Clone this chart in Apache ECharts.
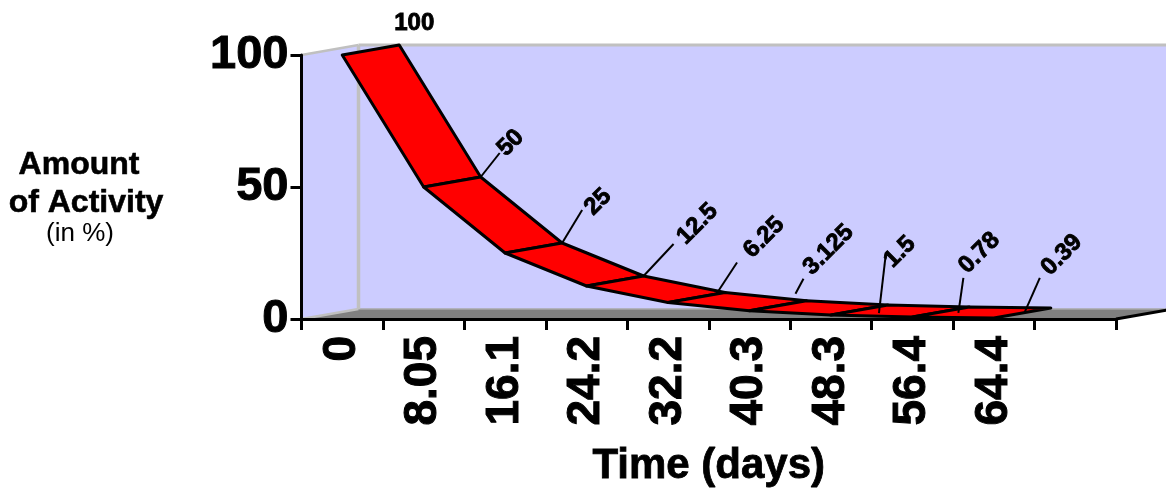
<!DOCTYPE html>
<html>
<head>
<meta charset="utf-8">
<style>html,body{margin:0;padding:0;background:#fff}#c{width:1166px;height:490px}</style>
<script src="https://cdn.jsdelivr.net/npm/echarts@6/dist/echarts.min.js"></script>
</head>
<body>
<div id="c"></div>
<script>
var categories = ['0','8.05','16.1','24.2','32.2','40.3','48.3','56.4','64.4',''];
var activity = [100,50,25,12.5,6.25,3.125,1.5,0.78,0.39];
var valueLabels = ['100','50','25','12.5','6.25','3.125','1.5','0.78','0.39'];
var yTicks = [0,50,100];

// style / layout constants
var FONT = '"Liberation Sans", Arial, sans-serif';
var DEPTH_X = 57, DEPTH_Y = -10;
// label callouts: pixel offsets from each point's front corner
// [leader x0, y0, x1, y1, label x, label y, rotation deg]
var callouts = [
  null,
  [57,-10,76,-34,87,-44,45],
  [57,-10,77,-43,93,-51,45],
  [57,-10,87,-42,111,-62,45],
  [48,-8,69,-40,96,-65,45],
  [46,-17,54,-32,79,-61,45],
  [48,-2,55,-62,69,-63,45],
  [46,-4,51,-39,67,-64,45],
  [31,-6,46,-40,68,-63,45]
];

var chart = echarts.init(document.getElementById('c'), null, {renderer:'canvas'});

function shifted(p){ return [p[0]+DEPTH_X, p[1]+DEPTH_Y]; }

function renderBackdrop(params, api){
  var g = params.coordSys;
  var x0=g.x, x1=g.x+g.width, yT=g.y, yB=g.y+g.height;
  var lt=[x0,yT], lb=[x0,yB], rb=[x1,yB];
  var blt=shifted(lt), blb=shifted(lb), brb=shifted(rb), brt=[brb[0],blt[1]];
  var grey='#c0c0c0';
  return {type:'group', children:[
    {type:'polygon', shape:{points:[blt,brt,brb,blb]}, style:{fill:'#ccccff'}},
    {type:'polygon', shape:{points:[lt,blt,blb,lb]}, style:{fill:'#ccccff'}},
    {type:'polygon', shape:{points:[lb,blb,brb,rb]}, style:{fill:'#808080'}},
    {type:'line', shape:{x1:blb[0],y1:blb[1],x2:brb[0],y2:brb[1]}, style:{stroke:'#a8a8a8',lineWidth:1.5}},
    {type:'line', shape:{x1:blt[0],y1:blt[1],x2:brt[0],y2:brt[1]}, style:{stroke:grey,lineWidth:3}},
    {type:'line', shape:{x1:blt[0],y1:blt[1],x2:blb[0],y2:blb[1]}, style:{stroke:grey,lineWidth:3.5}},
    {type:'line', shape:{x1:lt[0],y1:lt[1],x2:blt[0],y2:blt[1]}, style:{stroke:grey,lineWidth:2.5}},
    {type:'line', shape:{x1:lb[0],y1:lb[1],x2:blb[0],y2:blb[1]}, style:{stroke:grey,lineWidth:2.5}},
    {type:'line', shape:{x1:rb[0],y1:rb[1],x2:brb[0],y2:brb[1]}, style:{stroke:'#000',lineWidth:3}}
  ]};
}

function renderRibbon(params, api){
  var i = api.value(0);
  if (i >= activity.length-1) return {type:'group', children:[]};
  var a = api.coord([categories[i], activity[i]]);
  var b = api.coord([categories[i+1], activity[i+1]]);
  return {type:'polygon',
    shape:{points:[a,shifted(a),shifted(b),b]},
    style:{fill:'#ff0000',stroke:'#000',lineWidth:3,lineJoin:'round'}};
}

function labelStyle(t){
  return {text:t,font:'bold 24px '+FONT,fill:'#000',stroke:'#000',lineWidth:0.9,align:'center',verticalAlign:'middle'};
}

function renderLabel(params, api){
  var i = api.value(0);
  var p = api.coord([categories[i], activity[i]]);
  var c = callouts[i];
  var kids = [];
  if (c) {
    kids.push({type:'line', shape:{x1:p[0]+c[0],y1:p[1]+c[1],x2:p[0]+c[2],y2:p[1]+c[3]},
      style:{stroke:'#000',lineWidth:2}});
    kids.push({type:'text', x:p[0]+c[4], y:p[1]+c[5], rotation:c[6]*Math.PI/180, style:labelStyle(valueLabels[i])});
  } else {
    kids.push({type:'text', x:p[0]+72, y:p[1]-32, style:labelStyle(valueLabels[i])});
  }
  return {type:'group', children:kids};
}

var idx = activity.map(function(v,i){ return [i]; });

chart.setOption({
  animation:false,
  backgroundColor:'#ffffff',
  grid:{left:301.5,top:55,width:814.5,height:264,containLabel:false,outerBoundsMode:'none'},
  xAxis:{
    type:'category', data:categories, boundaryGap:true, z:5,
    axisLine:{show:true,onZero:false,lineStyle:{color:'#000',width:3}},
    axisTick:{show:true,alignWithLabel:false,length:11,lineStyle:{color:'#000',width:3},interval:0},
    axisLabel:{show:true,interval:0,rotate:90,margin:17,fontFamily:FONT,fontWeight:'bold',fontSize:46,color:'#000',textBorderColor:'#000',textBorderWidth:1},
    splitLine:{show:false},
    name:'Time (days)', nameLocation:'middle', nameGap:147,
    nameTextStyle:{fontFamily:FONT,fontWeight:'bold',fontSize:42,color:'#000',verticalAlign:'middle',textBorderColor:'#000',textBorderWidth:0.8}
  },
  yAxis:{
    type:'value', min:0, max:100, interval:50, z:5,
    axisLine:{show:true,lineStyle:{color:'#000',width:3}},
    axisTick:{show:true,length:11,lineStyle:{color:'#000',width:3}},
    axisLabel:{show:true,margin:13,fontFamily:FONT,fontWeight:'bold',fontSize:47,color:'#000',textBorderColor:'#000',textBorderWidth:1,lineHeight:53,
      formatter:function(v){ return yTicks.indexOf(v)>=0 ? String(v) : ''; }},
    splitLine:{show:false}
  },
  graphic:[
    {type:'text',x:79,y:165,style:{text:'Amount',font:'bold 32px '+FONT,fill:'#000',stroke:'#000',lineWidth:0.6,align:'center',verticalAlign:'middle'}},
    {type:'text',x:86,y:203,style:{text:'of Activity',font:'bold 32px '+FONT,fill:'#000',stroke:'#000',lineWidth:0.6,align:'center',verticalAlign:'middle'}},
    {type:'text',x:80,y:234,style:{text:'(in %)',font:'26px '+FONT,fill:'#000',align:'center',verticalAlign:'middle'}}
  ],
  series:[
    {type:'custom',coordinateSystem:'cartesian2d',z:1,clip:false,silent:true,data:[[0]],renderItem:renderBackdrop,encode:{x:0},tooltip:{show:false}},
    {type:'custom',coordinateSystem:'cartesian2d',z:7,clip:false,silent:true,data:idx,renderItem:renderRibbon,encode:{x:0}},
    {type:'custom',coordinateSystem:'cartesian2d',z:8,clip:false,silent:true,data:idx,renderItem:renderLabel,encode:{x:0}}
  ]
});
</script>
</body>
</html>
